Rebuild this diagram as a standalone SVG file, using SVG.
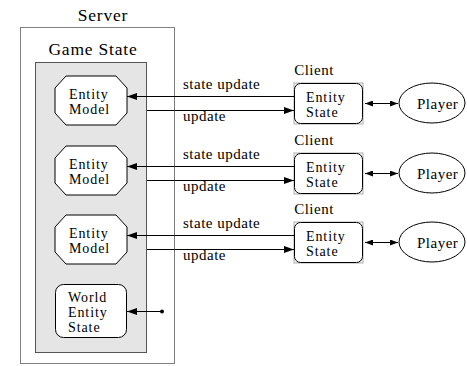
<svg xmlns="http://www.w3.org/2000/svg" width="467" height="366" viewBox="0 0 467 366">
  <style>
    text { font-family: "Liberation Serif", "Times New Roman", serif; fill: #000; }
    .title { font-size: 17.5px; letter-spacing: 0.8px; text-anchor: middle; }
    .lbl { font-size: 15px; letter-spacing: 0.5px; }
    .tight { font-size: 14px; letter-spacing: 0.9px; }
    .mid { text-anchor: middle; }
    .outer { fill: #fff; stroke: #808080; stroke-width: 1; }
    .inner { fill: #e5e5e5; stroke: #555; stroke-width: 1; }
    .node { fill: #fff; stroke: #000; stroke-width: 1; }
    .corner { fill: none; stroke: #999; stroke-width: 0.8; }
    .wire { stroke: #000; stroke-width: 1; fill: none; }
  </style>
  <defs>
    <marker id="head" markerUnits="userSpaceOnUse" markerWidth="10" markerHeight="7" refX="10" refY="3.5" orient="auto-start-reverse">
      <path d="M0,0 L10,3.5 L0,7 z" fill="#000"/>
    </marker>
    <marker id="small" markerUnits="userSpaceOnUse" markerWidth="8" markerHeight="6" refX="8" refY="3" orient="auto-start-reverse">
      <path d="M0,0 L8,3 L0,6 z" fill="#000"/>
    </marker>
    <polygon id="octagon" class="node" points="66,76 116,76 127,88 127,113 116,125 66,125 55,113 55,88"/>
  </defs>

  <!-- Server container -->
  <g id="server">
    <text class="title" x="103" y="20.5">Server</text>
    <rect class="outer" x="20.5" y="27.5" width="154" height="336"/>
  </g>

  <!-- Game state container -->
  <g id="game-state">
    <text class="title" x="93" y="55">Game State</text>
    <rect class="inner" x="35.5" y="62.5" width="111" height="290"/>
  </g>

  <!-- Entity models -->
  <g id="entity-model-1">
    <use href="#octagon"/>
    <text class="tight" x="69" y="98.5">Entity</text>
    <text class="tight" x="69" y="113.5">Model</text>
  </g>
  <g id="entity-model-2" transform="translate(0,70)">
    <use href="#octagon"/>
    <text class="tight" x="69" y="98.5">Entity</text>
    <text class="tight" x="69" y="113.5">Model</text>
  </g>
  <g id="entity-model-3" transform="translate(0,139)">
    <use href="#octagon"/>
    <text class="tight" x="69" y="98.5">Entity</text>
    <text class="tight" x="69" y="113.5">Model</text>
  </g>

  <!-- World entity state -->
  <g id="world-entity-state">
    <rect class="node" x="55.5" y="284.5" width="71" height="53" rx="8"/>
    <text class="tight" x="68" y="302">World</text>
    <text class="tight" x="68" y="317">Entity</text>
    <text class="tight" x="68" y="332">State</text>
  </g>

  <!-- Clients -->
  <g id="client-1">
    <text class="lbl mid" x="314" y="75">Client</text>
    <rect class="corner" x="294" y="83" width="69" height="41"/>
    <rect class="node" x="294.5" y="83.5" width="68" height="40" rx="6"/>
    <text class="tight" x="306" y="101.5">Entity</text>
    <text class="tight" x="306" y="116.5">State</text>
  </g>
  <g id="client-2" transform="translate(0,70)">
    <text class="lbl mid" x="314" y="75">Client</text>
    <rect class="corner" x="294" y="83" width="69" height="41"/>
    <rect class="node" x="294.5" y="83.5" width="68" height="40" rx="6"/>
    <text class="tight" x="306" y="101.5">Entity</text>
    <text class="tight" x="306" y="116.5">State</text>
  </g>
  <g id="client-3" transform="translate(0,139)">
    <text class="lbl mid" x="314" y="75">Client</text>
    <rect class="corner" x="294" y="83" width="69" height="41"/>
    <rect class="node" x="294.5" y="83.5" width="68" height="40" rx="6"/>
    <text class="tight" x="306" y="101.5">Entity</text>
    <text class="tight" x="306" y="116.5">State</text>
  </g>

  <!-- Players -->
  <g id="player-1">
    <ellipse class="node" cx="432" cy="103" rx="33" ry="20"/>
    <text class="lbl" x="417" y="108.5">Player</text>
  </g>
  <g id="player-2" transform="translate(0,70)">
    <ellipse class="node" cx="432" cy="103" rx="33" ry="20"/>
    <text class="lbl" x="417" y="108.5">Player</text>
  </g>
  <g id="player-3" transform="translate(0,139)">
    <ellipse class="node" cx="432" cy="103" rx="33" ry="20"/>
    <text class="lbl" x="417" y="108.5">Player</text>
  </g>

  <!-- Connectors -->
  <g id="connectors">
    <g id="row-1">
      <line class="wire" x1="294" y1="96.5" x2="127" y2="96.5" marker-end="url(#head)"/>
      <line class="wire" x1="147" y1="110.5" x2="294" y2="110.5" marker-end="url(#head)"/>
      <line class="wire" x1="365" y1="103.5" x2="398" y2="103.5" marker-start="url(#small)" marker-end="url(#small)"/>
      <text class="lbl" x="183" y="89">state update</text>
      <text class="lbl" x="183" y="121">update</text>
    </g>
    <g id="row-2" transform="translate(0,70)">
      <line class="wire" x1="294" y1="96.5" x2="127" y2="96.5" marker-end="url(#head)"/>
      <line class="wire" x1="147" y1="110.5" x2="294" y2="110.5" marker-end="url(#head)"/>
      <line class="wire" x1="365" y1="103.5" x2="398" y2="103.5" marker-start="url(#small)" marker-end="url(#small)"/>
      <text class="lbl" x="183" y="89">state update</text>
      <text class="lbl" x="183" y="121">update</text>
    </g>
    <g id="row-3" transform="translate(0,139)">
      <line class="wire" x1="294" y1="96.5" x2="127" y2="96.5" marker-end="url(#head)"/>
      <line class="wire" x1="147" y1="110.5" x2="294" y2="110.5" marker-end="url(#head)"/>
      <line class="wire" x1="365" y1="103.5" x2="398" y2="103.5" marker-start="url(#small)" marker-end="url(#small)"/>
      <text class="lbl" x="183" y="89">state update</text>
      <text class="lbl" x="183" y="121">update</text>
    </g>
    <g id="world-link">
      <line class="wire" x1="162" y1="311.5" x2="127" y2="311.5" marker-end="url(#head)"/>
      <circle cx="162" cy="311.5" r="2" fill="#000"/>
    </g>
  </g>
</svg>
